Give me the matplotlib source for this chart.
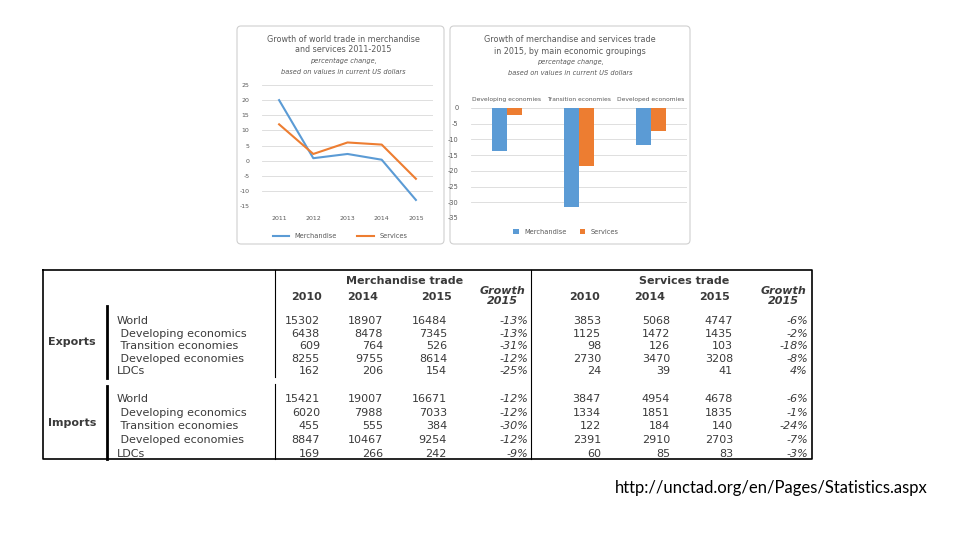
import matplotlib
matplotlib.use('Agg')
import matplotlib.pyplot as plt
from matplotlib.patches import FancyBboxPatch

plt.rcParams['font.family'] = ['DejaVu Sans']
plt.rcParams['axes.unicode_minus'] = False

# line chart: world trade growth, % change
years = ['2011', '2012', '2013', '2014', '2015']
merch_growth = [20, 0.8, 2.2, 0.3, -13]
serv_growth = [12, 2.2, 6, 5.3, -6]

# bar chart: 2015 growth by economic grouping
groups = ['Developing economies', 'Transition economies', 'Developed economies']
merch_2015 = [-13.7, -31.5, -11.8]
serv_2015 = [-2.2, -18.3, -7.3]

# table
row_names = ['World', ' Developing economics', ' Transition economies', ' Developed economies', 'LDCs']
col_years = ['2010', '2014', '2015']
exp_merch = [['15302', '18907', '16484', '-13%'],
             ['6438', '8478', '7345', '-13%'],
             ['609', '764', '526', '-31%'],
             ['8255', '9755', '8614', '-12%'],
             ['162', '206', '154', '-25%']]
exp_serv = [['3853', '5068', '4747', '-6%'],
            ['1125', '1472', '1435', '-2%'],
            ['98', '126', '103', '-18%'],
            ['2730', '3470', '3208', '-8%'],
            ['24', '39', '41', '4%']]
imp_merch = [['15421', '19007', '16671', '-12%'],
             ['6020', '7988', '7033', '-12%'],
             ['455', '555', '384', '-30%'],
             ['8847', '10467', '9254', '-12%'],
             ['169', '266', '242', '-9%']]
imp_serv = [['3847', '4954', '4678', '-6%'],
            ['1334', '1851', '1835', '-1%'],
            ['122', '184', '140', '-24%'],
            ['2391', '2910', '2703', '-7%'],
            ['60', '85', '83', '-3%']]

W, H = 960, 540
BLUE = '#5B9BD5'
ORANGE = '#ED7D31'
GRID = '#D9D9D9'
TXT = '#595959'

fig = plt.figure(figsize=(9.6, 5.4), dpi=100)
fig.patch.set_facecolor('white')


def px_axes(x0, y0, x1, y1, **kw):
    # axes from pixel box (top-left origin)
    return fig.add_axes([x0 / W, 1 - y1 / H, (x1 - x0) / W, (y1 - y0) / H], **kw)


bg = px_axes(0, 0, W, H)
bg.set_xlim(0, W)
bg.set_ylim(H, 0)
bg.axis('off')

# chart panels
for x0, x1 in [(237, 444), (450, 690)]:
    bg.add_patch(FancyBboxPatch((x0, 26), x1 - x0, 218, boxstyle='round,pad=0,rounding_size=4',
                                fc='white', ec='#D0D0D0', lw=0.8))

# left chart titles
bg.text(343, 40, 'Growth of world trade in merchandise', ha='center', va='center', fontsize=5.8, color=TXT)
bg.text(343, 50, 'and services 2011-2015', ha='center', va='center', fontsize=5.8, color=TXT)
bg.text(343, 61, 'percentage change,', ha='center', va='center', fontsize=4.8, color=TXT, style='italic')
bg.text(343, 72, 'based on values in current US dollars', ha='center', va='center', fontsize=4.8,
        color=TXT, style='italic')

# right chart titles
bg.text(570, 40, 'Growth of merchandise and services trade', ha='center', va='center', fontsize=5.8, color=TXT)
bg.text(570, 51, 'in 2015, by main economic groupings', ha='center', va='center', fontsize=5.8, color=TXT)
bg.text(570, 62, 'percentage change,', ha='center', va='center', fontsize=4.8, color=TXT, style='italic')
bg.text(570, 73, 'based on values in current US dollars', ha='center', va='center', fontsize=4.8,
        color=TXT, style='italic')

# line chart
ax1 = px_axes(262, 85, 433, 206)
ax1.set_facecolor('none')
xs = range(len(years))
ax1.plot(xs, merch_growth, color=BLUE, lw=1.5, label='Merchandise')
ax1.plot(xs, serv_growth, color=ORANGE, lw=1.5, label='Services')
ax1.set_xlim(-0.5, len(years) - 0.5)
ax1.set_ylim(-15, 25)
ax1.set_yticks(range(-15, 26, 5))
ax1.set_xticks(list(xs))
ax1.set_xticklabels(years)
ax1.tick_params(length=0, labelsize=4.5, labelcolor=TXT)
ax1.tick_params(axis='y', pad=9)
ax1.tick_params(axis='x', pad=7)
ax1.grid(axis='y', color=GRID, lw=0.6)
ax1.set_axisbelow(True)
for s in ax1.spines.values():
    s.set_visible(False)
ax1.legend(loc='center', bbox_to_anchor=(340 / W, 1 - 236 / H), bbox_transform=fig.transFigure,
           ncol=2, frameon=False, fontsize=4.8, handlelength=2.5, columnspacing=3, labelcolor=TXT)

# bar chart
ax2 = px_axes(471, 108, 687, 218)
ax2.set_facecolor('none')
bw = 0.21
gx = list(range(len(groups)))
ax2.bar([g - bw / 2 for g in gx], merch_2015, width=bw, color=BLUE, label='Merchandise')
ax2.bar([g + bw / 2 for g in gx], serv_2015, width=bw, color=ORANGE, label='Services')
ax2.set_xlim(-0.5, len(groups) - 0.5)
ax2.set_ylim(-35, 0)
ax2.set_yticks(range(-35, 1, 5))
ax2.set_xticks(gx)
ax2.set_xticklabels(groups)
ax2.xaxis.tick_top()
ax2.tick_params(length=0, labelsize=4.8, labelcolor=TXT)
ax2.tick_params(axis='x', labelsize=4.3, pad=4)
ax2.tick_params(axis='y', pad=9)
ax2.grid(axis='y', color=GRID, lw=0.6)
ax2.set_axisbelow(True)
for s in ax2.spines.values():
    s.set_visible(False)
ax2.legend(loc='center', bbox_to_anchor=(566 / W, 1 - 232 / H), bbox_transform=fig.transFigure,
           ncol=2, frameon=False, fontsize=4.8, handlelength=0.8, handleheight=0.9,
           columnspacing=2, labelcolor=TXT)

# table frame
TC = '#3A3A3A'
bg.plot([43, 812, 812, 43, 43], [270, 270, 459, 459, 270], color='black', lw=1.2)
bg.plot([275, 275], [270, 377], color='black', lw=0.8)
bg.plot([275, 275], [384, 459], color='black', lw=0.8)
bg.plot([531, 531], [270, 459], color='black', lw=0.8)
bg.plot([107, 107], [306, 378], color='black', lw=2)
bg.plot([107, 107], [386, 459], color='black', lw=2)

bg.text(405, 281, 'Merchandise trade', ha='center', va='center', fontsize=8, color=TC, weight='bold')
bg.text(684, 281, 'Services trade', ha='center', va='center', fontsize=8, color=TC, weight='bold')
for centers, gcx in [([307, 363, 436], 502), ([584, 650, 714], 783)]:
    for cx, yr in zip(centers, col_years):
        bg.text(cx, 297, yr, ha='center', va='center', fontsize=8, color=TC, weight='bold')
    bg.text(gcx, 296, 'Growth\n2015', ha='center', va='center', fontsize=8, color=TC,
            weight='bold', style='italic', linespacing=0.95)

bg.text(72, 342, 'Exports', ha='center', va='center', fontsize=8, color=TC, weight='bold')
bg.text(72, 423, 'Imports', ha='center', va='center', fontsize=8, color=TC, weight='bold')

exp_y = [321, 334, 346, 359, 371]
imp_y = [399, 413, 426, 440, 454]
merch_right = [320, 383, 447, 528]
serv_right = [601, 670, 733, 808]
for ys, mrows, srows in [(exp_y, exp_merch, exp_serv), (imp_y, imp_merch, imp_serv)]:
    for y, name, mr, sr in zip(ys, row_names, mrows, srows):
        bg.text(117, y, name, ha='left', va='center', fontsize=8, color=TC)
        for i, (xr, val) in enumerate(zip(merch_right, mr)):
            bg.text(xr, y, val, ha='right', va='center', fontsize=8, color=TC,
                    style='italic' if i == 3 else 'normal')
        for i, (xr, val) in enumerate(zip(serv_right, sr)):
            bg.text(xr, y, val, ha='right', va='center', fontsize=8, color=TC,
                    style='italic' if i == 3 else 'normal')

# source link
bg.text(928, 488, 'http://unctad.org/en/Pages/Statistics.aspx', ha='right', va='center',
        fontsize=12, color='black', family=['Lato', 'DejaVu Sans'])

fig.savefig('out.png', dpi=100, facecolor='white')
